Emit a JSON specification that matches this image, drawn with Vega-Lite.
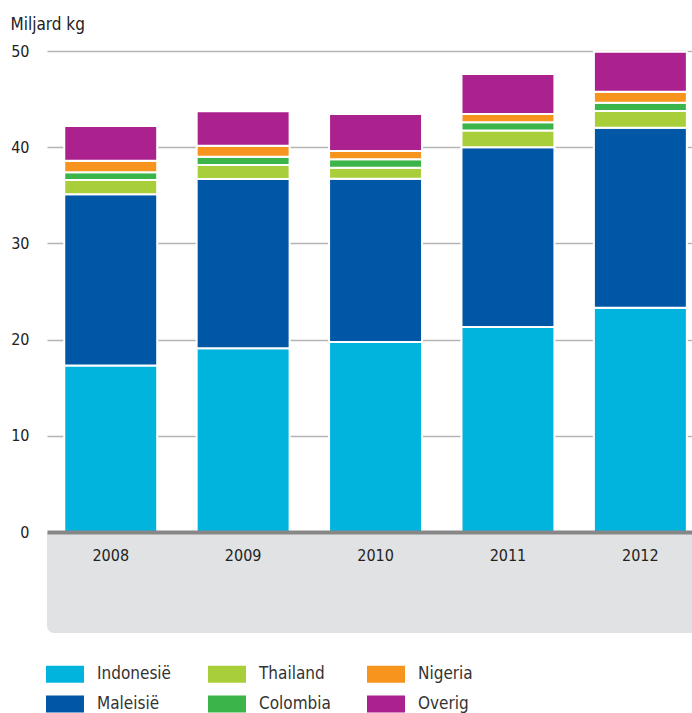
{
  "$schema": "https://vega.github.io/schema/vega-lite/v6.json",
  "autosize": "none",
  "width": 645,
  "height": 481,
  "padding": {"left": 47, "top": 51, "right": 0, "bottom": 181},
  "background": "white",
  "config": {
    "view": {"stroke": null},
    "font": "Liberation Sans Narrow, DejaVu Sans Condensed, sans-serif",
    "axis": {"labelColor": "#222222", "titleColor": "#222222", "labelFontSize": 16, "titleFontSize": 17, "titleFontWeight": "normal", "ticks": false},
    "axisY": {"grid": true, "gridColor": "#b5b5b5", "gridWidth": 1.3, "domain": false, "labelPadding": 18, "titleAngle": 0, "titleX": -37, "titleY": -22, "titleAlign": "left", "titleBaseline": "alphabetic"}
  },
  "layer": [
    {
      "data": {"values": [{"boven": 0, "onder": -10.5}]},
      "mark": {"type": "rect", "color": "#e1e2e4", "cornerRadiusBottomLeft": 7, "clip": false},
      "encoding": {
        "y": {"field": "boven", "type": "quantitative", "scale": {"domain": [0, 50], "nice": false}, "title": "Miljard kg", "axis": {"values": [0, 10, 20, 30, 40, 50]}},
        "y2": {"field": "onder"}
      }
    },
    {
      "data": {"values": [
        {"jaar": "2008", "land": "Indonesië", "waarde": 17.3},
        {"jaar": "2008", "land": "Maleisië", "waarde": 17.8},
        {"jaar": "2008", "land": "Thailand", "waarde": 1.5},
        {"jaar": "2008", "land": "Colombia", "waarde": 0.8},
        {"jaar": "2008", "land": "Nigeria", "waarde": 1.2},
        {"jaar": "2008", "land": "Overig", "waarde": 3.6},
        {"jaar": "2009", "land": "Indonesië", "waarde": 19.1},
        {"jaar": "2009", "land": "Maleisië", "waarde": 17.6},
        {"jaar": "2009", "land": "Thailand", "waarde": 1.45},
        {"jaar": "2009", "land": "Colombia", "waarde": 0.85},
        {"jaar": "2009", "land": "Nigeria", "waarde": 1.15},
        {"jaar": "2009", "land": "Overig", "waarde": 3.6},
        {"jaar": "2010", "land": "Indonesië", "waarde": 19.75},
        {"jaar": "2010", "land": "Maleisië", "waarde": 16.98},
        {"jaar": "2010", "land": "Thailand", "waarde": 1.14},
        {"jaar": "2010", "land": "Colombia", "waarde": 0.87},
        {"jaar": "2010", "land": "Nigeria", "waarde": 0.86},
        {"jaar": "2010", "land": "Overig", "waarde": 3.85},
        {"jaar": "2011", "land": "Indonesië", "waarde": 21.3},
        {"jaar": "2011", "land": "Maleisië", "waarde": 18.7},
        {"jaar": "2011", "land": "Thailand", "waarde": 1.74},
        {"jaar": "2011", "land": "Colombia", "waarde": 0.86},
        {"jaar": "2011", "land": "Nigeria", "waarde": 0.86},
        {"jaar": "2011", "land": "Overig", "waarde": 4.16},
        {"jaar": "2012", "land": "Indonesië", "waarde": 23.3},
        {"jaar": "2012", "land": "Maleisië", "waarde": 18.73},
        {"jaar": "2012", "land": "Thailand", "waarde": 1.73},
        {"jaar": "2012", "land": "Colombia", "waarde": 0.87},
        {"jaar": "2012", "land": "Nigeria", "waarde": 1.14},
        {"jaar": "2012", "land": "Overig", "waarde": 4.16}
      ]},
      "transform": [
        {"calculate": "indexof(['Indonesië','Maleisië','Thailand','Colombia','Nigeria','Overig'], datum.land)", "as": "volgorde"}
      ],
      "mark": {"type": "bar", "stroke": "white", "strokeWidth": 2},
      "encoding": {
        "x": {
          "field": "jaar", "type": "nominal", "title": null,
          "scale": {"paddingInner": 0.298, "paddingOuter": 0.0846, "align": 0.77},
          "axis": {"zindex": 2, "grid": false, "domain": true, "domainColor": "#878787", "domainWidth": 4, "labelPadding": 15, "labelAngle": 0, "labelFontSize": 16, "labelColor": "#222222"}
        },
        "y": {"field": "waarde", "type": "quantitative", "stack": "zero", "scale": {"domain": [0, 50], "nice": false}, "title": "Miljard kg", "axis": {"values": [0, 10, 20, 30, 40, 50]}},
        "color": {
          "field": "land", "type": "nominal",
          "scale": {
            "domain": ["Indonesië", "Thailand", "Nigeria", "Maleisië", "Colombia", "Overig"],
            "range": ["#00b4de", "#a8cf3a", "#f7941d", "#0057a6", "#3bb54a", "#ab218e"]
          },
          "legend": {
            "title": null, "orient": "none", "legendX": -1, "legendY": 604, "columns": 3, "direction": "horizontal",
            "symbolType": "M-1,-0.447H1V0.447H-1Z", "symbolSize": 1444, "symbolStrokeWidth": 0, "symbolOpacity": 1,
            "labelFontSize": 17, "labelColor": "#333333", "labelOffset": 13, "columnPadding": 36, "rowPadding": 2
          }
        },
        "order": {"field": "volgorde", "type": "quantitative", "sort": "ascending"}
      }
    }
  ]
}
